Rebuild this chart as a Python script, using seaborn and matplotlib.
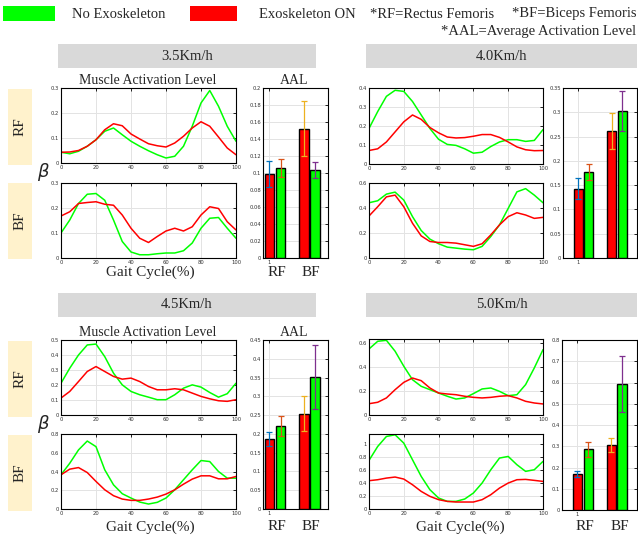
import matplotlib
matplotlib.use('Agg')
import matplotlib.pyplot as plt
from matplotlib.patches import Rectangle
from matplotlib.ticker import FuncFormatter
import seaborn as sns
import pandas as pd

W, H = 638, 538

GAIT = list(range(0, 101, 5))
SPEEDS = ['3.5Km/h', '4.0Km/h', '4.5Km/h', '5.0Km/h']
CONDITIONS = ['No Exoskeleton', 'Exoskeleton ON']
MUSCLES = ['RF', 'BF']

# activation curves (beta) sampled every 5% of the gait cycle
rf_35_off = [0.043, 0.037, 0.047, 0.067, 0.093, 0.127, 0.140, 0.113, 0.087, 0.067, 0.049,
             0.033, 0.020, 0.027, 0.067, 0.147, 0.240, 0.290, 0.227, 0.147, 0.087]
rf_35_on = [0.043, 0.044, 0.050, 0.067, 0.093, 0.133, 0.157, 0.149, 0.116, 0.096, 0.077,
            0.069, 0.064, 0.080, 0.107, 0.140, 0.165, 0.147, 0.104, 0.060, 0.033]
bf_35_off = [0.100, 0.152, 0.218, 0.255, 0.258, 0.231, 0.152, 0.066, 0.024, 0.013, 0.013,
             0.017, 0.020, 0.020, 0.029, 0.060, 0.119, 0.159, 0.162, 0.119, 0.079]
bf_35_on = [0.168, 0.185, 0.218, 0.222, 0.225, 0.215, 0.211, 0.172, 0.119, 0.079, 0.062,
            0.086, 0.108, 0.119, 0.108, 0.125, 0.172, 0.205, 0.198, 0.145, 0.112]

rf_40_off = [0.187, 0.276, 0.356, 0.388, 0.382, 0.329, 0.258, 0.187, 0.130, 0.103, 0.098,
             0.080, 0.057, 0.062, 0.092, 0.116, 0.128, 0.128, 0.119, 0.124, 0.181]
rf_40_on = [0.071, 0.080, 0.116, 0.169, 0.222, 0.258, 0.235, 0.192, 0.164, 0.142, 0.137,
            0.139, 0.146, 0.155, 0.155, 0.140, 0.116, 0.090, 0.075, 0.070, 0.071]
bf_40_off = [0.442, 0.458, 0.511, 0.527, 0.463, 0.331, 0.220, 0.151, 0.114, 0.087, 0.079,
             0.071, 0.066, 0.093, 0.172, 0.265, 0.397, 0.529, 0.555, 0.503, 0.442]
bf_40_on = [0.336, 0.410, 0.489, 0.503, 0.410, 0.278, 0.177, 0.132, 0.124, 0.124, 0.119,
            0.106, 0.093, 0.114, 0.185, 0.265, 0.331, 0.362, 0.344, 0.317, 0.325]

rf_45_off = [0.212, 0.312, 0.400, 0.467, 0.473, 0.389, 0.279, 0.201, 0.157, 0.135, 0.119,
             0.102, 0.102, 0.135, 0.179, 0.201, 0.186, 0.150, 0.119, 0.142, 0.212]
rf_45_on = [0.113, 0.157, 0.223, 0.290, 0.323, 0.290, 0.257, 0.239, 0.246, 0.223, 0.190,
            0.168, 0.168, 0.175, 0.168, 0.146, 0.124, 0.108, 0.095, 0.091, 0.102]
bf_45_off = [0.365, 0.488, 0.630, 0.725, 0.665, 0.418, 0.258, 0.163, 0.117, 0.074, 0.053,
             0.071, 0.117, 0.205, 0.312, 0.418, 0.517, 0.506, 0.400, 0.329, 0.329]
bf_45_on = [0.365, 0.425, 0.442, 0.389, 0.294, 0.205, 0.142, 0.106, 0.092, 0.092, 0.106,
            0.127, 0.159, 0.205, 0.265, 0.319, 0.354, 0.354, 0.322, 0.322, 0.347]

rf_50_off = [0.550, 0.614, 0.622, 0.531, 0.406, 0.294, 0.239, 0.211, 0.183, 0.156, 0.133,
             0.142, 0.178, 0.217, 0.225, 0.197, 0.161, 0.169, 0.253, 0.392, 0.544]
rf_50_on = [0.094, 0.106, 0.142, 0.211, 0.272, 0.308, 0.286, 0.225, 0.183, 0.175, 0.169,
            0.156, 0.147, 0.142, 0.147, 0.156, 0.161, 0.142, 0.114, 0.100, 0.092]
bf_50_off = [0.745, 0.959, 1.112, 1.138, 1.010, 0.755, 0.500, 0.296, 0.168, 0.117, 0.117,
             0.153, 0.245, 0.398, 0.602, 0.781, 0.806, 0.679, 0.577, 0.602, 0.730]
bf_50_on = [0.434, 0.449, 0.474, 0.490, 0.459, 0.372, 0.270, 0.194, 0.143, 0.117, 0.107,
            0.107, 0.107, 0.143, 0.219, 0.321, 0.398, 0.449, 0.454, 0.439, 0.423]

# AAL bars: [RF on, RF off, BF on, BF off] and their error half-widths
aal_35 = [0.099, 0.106, 0.152, 0.104]
err_35 = [0.0155, 0.0105, 0.0325, 0.0095]
aal_40 = [0.143, 0.177, 0.262, 0.303]
err_40 = [0.022, 0.017, 0.037, 0.0415]
aal_45 = [0.187, 0.220, 0.254, 0.351]
err_45 = [0.019, 0.0265, 0.047, 0.085]
aal_50 = [0.169, 0.285, 0.307, 0.593]
err_50 = [0.014, 0.037, 0.034, 0.133]

curves = {
    '3.5Km/h': {'RF': (rf_35_off, rf_35_on), 'BF': (bf_35_off, bf_35_on)},
    '4.0Km/h': {'RF': (rf_40_off, rf_40_on), 'BF': (bf_40_off, bf_40_on)},
    '4.5Km/h': {'RF': (rf_45_off, rf_45_on), 'BF': (bf_45_off, bf_45_on)},
    '5.0Km/h': {'RF': (rf_50_off, rf_50_on), 'BF': (bf_50_off, bf_50_on)},
}
bars = {'3.5Km/h': (aal_35, err_35), '4.0Km/h': (aal_40, err_40),
        '4.5Km/h': (aal_45, err_45), '5.0Km/h': (aal_50, err_50)}

GREEN, RED = '#00ff00', '#ff0000'
PALETTE = {'No Exoskeleton': GREEN, 'Exoskeleton ON': RED}
ERR_COLORS = ['#0072BD', '#D95319', '#EDB120', '#7E2F8E']
SERIF = 'Liberation Serif'

# pixel boxes per panel: header, RF line, BF line, bars (x0, y0, x1, y1)
layout = {
    '3.5Km/h': dict(head=(58, 44, 316, 68), rf=(61, 88, 236, 163), bf=(61, 183, 236, 258),
                    bar=(263, 88, 328, 258), ylim=(0.3, 0.3), yt=(0.1, 0.1),
                    bylim=0.2, byt=0.02, bxlim=(0.652, 2.536)),
    '4.0Km/h': dict(head=(366, 44, 637, 68), rf=(369, 88, 543, 164), bf=(369, 183, 543, 258),
                    bar=(563, 88, 637, 258), ylim=(0.4, 0.6), yt=(0.1, 0.2),
                    bylim=0.35, byt=0.05, bxlim=(0.39, 2.6)),
    '4.5Km/h': dict(head=(58, 293, 316, 317), rf=(61, 340, 236, 415), bf=(61, 434, 236, 509),
                    bar=(263, 340, 328, 509), ylim=(0.5, 0.8), yt=(0.1, 0.2),
                    bylim=0.45, byt=0.05, bxlim=(0.652, 2.536)),
    '5.0Km/h': dict(head=(366, 293, 637, 317), rf=(369, 339, 543, 415), bf=(369, 434, 543, 509),
                    bar=(562, 340, 637, 510), ylim=(0.633, 1.15), yt=(0.2, 0.2),
                    bylim=0.8, byt=0.1, bxlim=(0.39, 2.6)),
}

sns.set_theme(style='whitegrid')
plt.rcParams.update({
    'axes.edgecolor': 'black', 'axes.linewidth': 0.8, 'grid.color': '#e3e3e3',
    'grid.linewidth': 0.7, 'axes.facecolor': 'white',
})
plt.rcParams['font.family'] = ['DejaVu Sans']

fig = plt.figure(figsize=(W / 100, H / 100), dpi=100)


def fx(x):
    return x / W


def fy(y):
    return 1 - y / H


def px_axes(box):
    x0, y0, x1, y1 = box
    return fig.add_axes([fx(x0), fy(y1), (x1 - x0) / W, (y1 - y0) / H])


def ftext(x, y, s, size, **kw):
    kw.setdefault('family', SERIF)
    fig.text(fx(x), fy(y), s, fontsize=size, ha='center', va='center', **kw)


def frect(box, color):
    x0, y0, x1, y1 = box
    fig.patches.append(Rectangle((fx(x0), fy(y1)), (x1 - x0) / W, (y1 - y0) / H,
                                 transform=fig.transFigure, facecolor=color,
                                 edgecolor='none', zorder=0))


def style_ticks(ax):
    ax.tick_params(direction='in', length=2, width=0.6, labelsize=3.8, pad=1.5,
                   top=True, right=True, colors='black', labelcolor='#333333')
    ax.yaxis.set_major_formatter(FuncFormatter(lambda v, _: f'{v:g}'))
    for sp in ax.spines.values():
        sp.set_color('black')
        sp.set_linewidth(0.8)


for speed in SPEEDS:
    lay = layout[speed]
    frect(lay['head'], '#d9d9d9')
    hx0, hy0, hx1, hy1 = lay['head']
    ftext((hx0 + hx1) / 2, (hy0 + hy1) / 2, speed, 10.5)

    for i, muscle in enumerate(MUSCLES):
        off, on = curves[speed][muscle]
        df = pd.DataFrame({
            'gait': GAIT * 2,
            'beta': off + on,
            'condition': [CONDITIONS[0]] * len(GAIT) + [CONDITIONS[1]] * len(GAIT),
        })
        ax = px_axes(lay['rf'] if muscle == 'RF' else lay['bf'])
        sns.lineplot(data=df, x='gait', y='beta', hue='condition', palette=PALETTE,
                     linewidth=1.1, legend=False, ax=ax)
        ax.set_xlim(0, 100)
        ax.set_ylim(0, lay['ylim'][i])
        ax.set_xticks(range(0, 101, 20))
        step = lay['yt'][i]
        ax.set_yticks([k * step for k in range(int(lay['ylim'][i] / step + 1e-6) + 1)])
        ax.set_xlabel('')
        ax.set_ylabel('')
        style_ticks(ax)

    # AAL bars
    vals, errs = bars[speed]
    ax = px_axes(lay['bar'])
    xs = [1 - 0.16, 1 + 0.16, 2 - 0.16, 2 + 0.16]
    cols = [RED, GREEN, RED, GREEN]
    ax.bar(xs, vals, width=0.27, color=cols, edgecolor='black', linewidth=1.0, zorder=3)
    for x, v, e, c in zip(xs, vals, errs, ERR_COLORS):
        ax.errorbar(x, v, yerr=e, color=c, capsize=2.2, elinewidth=0.9,
                    capthick=0.9, zorder=4)
    ax.set_xlim(*lay['bxlim'])
    ax.set_ylim(0, lay['bylim'])
    n = int(round(lay['bylim'] / lay['byt']))
    ax.set_yticks([k * lay['byt'] for k in range(n + 1)])
    ax.set_xticks([0.84])
    ax.set_xticklabels(['1'])
    ax.grid(True, axis='both')
    style_ticks(ax)

# row labels, titles and axis captions
for top in (88, 340):
    ftext(148, top - 8, 'Muscle Activation Level', 10)
    ftext(294, top - 8, 'AAL', 10)
    frect((8, top + 1, 32, top + 77), '#fff2cc')
    frect((8, top + 95, 32, top + 171), '#fff2cc')
    ftext(20, top + 39, 'RF', 11, rotation=90)
    ftext(20, top + 133, 'BF', 11, rotation=90)
    ftext(43, top + 84, r'$\beta$', 13, family='DejaVu Serif')

for (gx, rfx, bfx, y) in [(150, 277, 311, 272), (150, 277, 311, 527), (460, 585, 620, 527)]:
    ftext(gx, y, 'Gait Cycle(%)', 11)
    ftext(rfx, y, 'RF', 11)
    ftext(bfx, y, 'BF', 11)

# legend strip
frect((3, 6, 55, 21), GREEN)
frect((190, 6, 237, 21), RED)
fig.text(fx(72), fy(14), 'No Exoskeleton', fontsize=10.5, family=SERIF, va='center')
fig.text(fx(259), fy(14), 'Exoskeleton ON', fontsize=10.5, family=SERIF, va='center')
fig.text(fx(370), fy(14), '*RF=Rectus Femoris', fontsize=10.5, family=SERIF, va='center')
fig.text(fx(636), fy(14), '*BF=Biceps Femoris', fontsize=10.5, family=SERIF,
         va='center', ha='right')
fig.text(fx(636), fy(31), '*AAL=Average Activation Level', fontsize=10.5, family=SERIF,
         va='center', ha='right')

fig.savefig('out.png', dpi=100)
